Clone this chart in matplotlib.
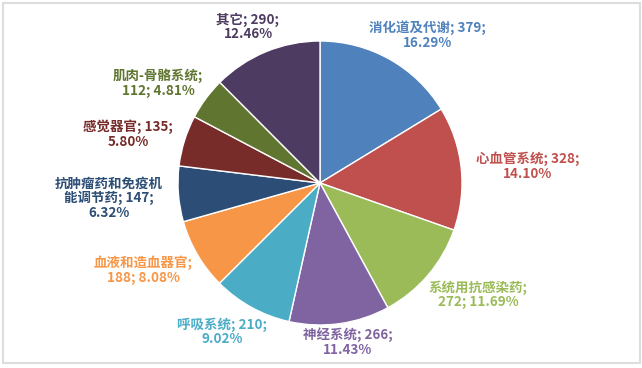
import matplotlib
matplotlib.use("Agg")
import matplotlib.pyplot as plt
from matplotlib.patches import Rectangle

plt.rcParams['font.family'] = ['Noto Sans CJK SC', 'DejaVu Sans']

categories = ["消化道及代谢", "心血管系统", "系统用抗感染药", "神经系统", "呼吸系统",
              "血液和造血器官", "抗肿瘤药和免疫机能调节药", "感觉器官", "肌肉-骨骼系统", "其它"]
values = [379, 328, 272, 266, 210, 188, 147, 135, 112, 290]
percents = ["16.29%", "14.10%", "11.69%", "11.43%", "9.02%", "8.08%", "6.32%", "5.80%", "4.81%", "12.46%"]
colors = ["#4F81BD", "#C0504D", "#9BBB59", "#8064A2", "#4BACC6",
          "#F79646", "#2C4D75", "#772C2A", "#5F7530", "#4D3B62"]

# label text layout (line breaks) and pixel centres
label_texts = [
    "{c}; {v};\n{p}",
    "{c}; {v};\n{p}",
    "{c};\n{v}; {p}",
    "{c}; {v};\n{p}",
    "{c}; {v};\n{p}",
    "{c};\n{v}; {p}",
    "抗肿瘤药和免疫机\n能调节药; {v};\n{p}",
    "{c}; {v};\n{p}",
    "{c};\n{v}; {p}",
    "{c}; {v};\n{p}",
]
label_px = [(427, 35), (528, 166), (478, 295), (348, 342), (222, 332),
            (143, 270), (109, 198), (128, 134), (158, 83), (248, 27)]

W, H = 642, 368
cx, cy, R = 320, 183, 142

fig = plt.figure(figsize=(W / 100, H / 100), dpi=100)
ax = fig.add_axes([0, 0, 1, 1])

ax.pie(values, colors=colors, startangle=90, counterclock=False, radius=1.0,
       wedgeprops=dict(edgecolor='white', linewidth=1.0))
ax.set_xlim(-cx / R, (W - cx) / R)
ax.set_ylim(-(H - cy) / R, cy / R)
ax.set_aspect('equal')
ax.axis('off')

for i, (c, v, p) in enumerate(zip(categories, values, percents)):
    txt = label_texts[i].format(c=c, v=v, p=p)
    px, py = label_px[i]
    ax.text((px - cx) / R, (cy - py) / R, txt, ha='center', va='center',
            fontsize=9.7, fontweight='bold', color=colors[i], linespacing=1.05)

# outer frame
frame = Rectangle((3 / W, (H - 363) / H), (640 - 3) / W, (363 - 3) / H,
                  transform=fig.transFigure, fill=False,
                  edgecolor='#DDDDDD', linewidth=1.5)
fig.patches.append(frame)

fig.savefig("out.png", dpi=100)
